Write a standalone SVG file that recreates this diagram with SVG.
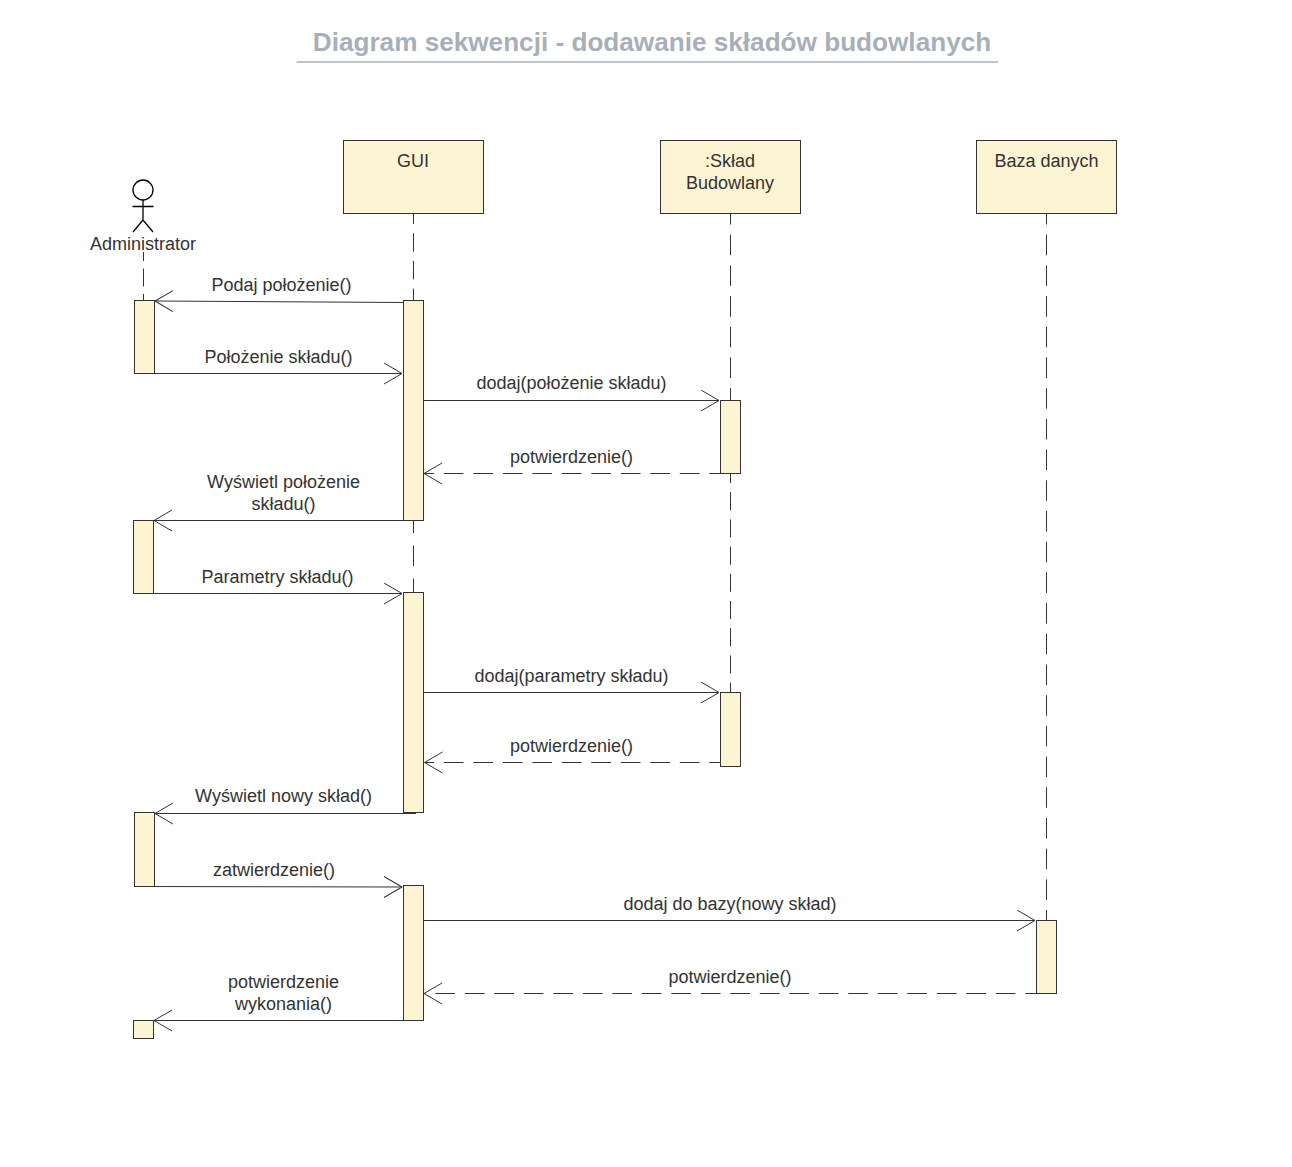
<svg xmlns="http://www.w3.org/2000/svg" width="1292" height="1167" viewBox="0 0 1292 1167">
<style>
text{font-family:"Liberation Sans",Arial,sans-serif;font-size:18px;fill:#333;text-anchor:middle}
.title{font-size:26.15px;font-weight:bold;fill:#a9afb8}
.box{fill:#fdf4d3;stroke:#333;stroke-width:1}
.life{fill:none;stroke:#333;stroke-width:1}
.msg{fill:none;stroke:#333;stroke-width:1}
.ret{fill:none;stroke:#333;stroke-width:1;stroke-dasharray:19.700 9.800;stroke-dashoffset:9}
.act{fill:none;stroke:#000;stroke-width:1.300}
</style>
<defs>
<marker id="open" markerUnits="userSpaceOnUse" markerWidth="24" markerHeight="24" refX="20" refY="11" orient="auto"><path d="M2 0.500L20 11L2 21.500" fill="none" stroke="#333" stroke-width="1" stroke-linejoin="round"/></marker>
</defs>
<rect width="1292" height="1167" fill="#fff"/>
<g id="title"><text class="title" x="652" y="51.300">Diagram sekwencji - dodawanie składów budowlanych</text><path d="M296.500 62H998" fill="none" stroke="#a9afb8" stroke-width="1.500"/></g>
<g id="lifelines">
<path class="life" stroke-dasharray="18 7.500" stroke-dashoffset="9" d="M143.500 252V301"/>
<path class="life" stroke-dasharray="18.500 9.200" stroke-dashoffset="8.500" d="M413.500 214V300"/>
<path class="life" stroke-dasharray="20.500 12.500" stroke-dashoffset="7.500" d="M413.500 520V592"/>
<path class="life" stroke-dasharray="20.500 10.200" stroke-dashoffset="10" d="M730.500 214V400"/>
<path class="life" stroke-dasharray="18 9.200" stroke-dashoffset="8" d="M730.500 473V692"/>
<path class="life" stroke-dasharray="20.500 10.200" stroke-dashoffset="10" d="M1046.500 214V920"/>
</g>
<g id="node-admin">
<circle class="act" cx="143" cy="190" r="10"/>
<path class="act" d="M143 200V220M132.500 206.500H153.500M133 232L143 220L153 232"/>
<text x="143" y="250">Administrator</text>
</g>
<g id="node-gui"><rect class="box" x="343.500" y="140.500" width="140" height="73"/><text x="413" y="166.500">GUI</text></g>
<g id="node-sklad"><rect class="box" x="660.500" y="140.500" width="140" height="73"/><text x="730" y="166.500">:Skład</text><text x="730" y="188.500">Budowlany</text></g>
<g id="node-baza"><rect class="box" x="976.500" y="140.500" width="140" height="73"/><text x="1046.500" y="166.500">Baza danych</text></g>
<g id="activations">
<rect class="box" x="134.500" y="300.500" width="20" height="73"/>
<rect class="box" x="403.500" y="300.500" width="20" height="220"/>
<rect class="box" x="720.500" y="400.500" width="20" height="73"/>
<rect class="box" x="133.500" y="520.500" width="20" height="73"/>
<rect class="box" x="403.500" y="592.500" width="20" height="220"/>
<rect class="box" x="720.500" y="692.500" width="20" height="74"/>
<rect class="box" x="134.500" y="812.500" width="20" height="74"/>
<rect class="box" x="403.500" y="885.500" width="20" height="135"/>
<rect class="box" x="1036.500" y="920.500" width="20" height="73"/>
<rect class="box" x="133.500" y="1020.500" width="20" height="18"/>
</g>
<g id="connectors">
<path class="msg" marker-end="url(#open)" d="M403 302.500L155 301"/>
<path class="msg" marker-end="url(#open)" d="M155 373.500H402"/>
<path class="msg" marker-end="url(#open)" d="M424 400.500H719"/>
<path class="ret" marker-end="url(#open)" d="M720 473.500H424"/>
<path class="msg" marker-end="url(#open)" d="M403 520.500H154"/>
<path class="msg" marker-end="url(#open)" d="M151 593.500H402"/>
<path class="msg" marker-end="url(#open)" d="M424 692.500H719"/>
<path class="ret" marker-end="url(#open)" d="M720 762.500H424.500"/>
<path class="msg" marker-end="url(#open)" d="M416 813.500H155"/>
<path class="msg" marker-end="url(#open)" d="M142 886.500L402 887"/>
<path class="msg" marker-end="url(#open)" d="M424 920.500H1035"/>
<path class="ret" marker-end="url(#open)" d="M1036 993.500H424"/>
<path class="msg" marker-end="url(#open)" d="M403 1020.500H154"/>
</g>
<g id="labels">
<text x="281.500" y="290.500">Podaj położenie()</text>
<text x="278.500" y="362.500">Położenie składu()</text>
<text x="571.500" y="388.500">dodaj(położenie składu)</text>
<text x="571.500" y="463">potwierdzenie()</text>
<text x="283.500" y="488">Wyświetl położenie</text>
<text x="283.500" y="510">składu()</text>
<text x="277.500" y="582.500">Parametry składu()</text>
<text x="571.500" y="681.500">dodaj(parametry składu)</text>
<text x="571.500" y="752">potwierdzenie()</text>
<text x="283.500" y="802">Wyświetl nowy skład()</text>
<text x="274" y="875.500">zatwierdzenie()</text>
<text x="730" y="909.500">dodaj do bazy(nowy skład)</text>
<text x="730" y="982.500">potwierdzenie()</text>
<text x="283.500" y="988">potwierdzenie</text>
<text x="283.500" y="1010">wykonania()</text>
</g>
</svg>
